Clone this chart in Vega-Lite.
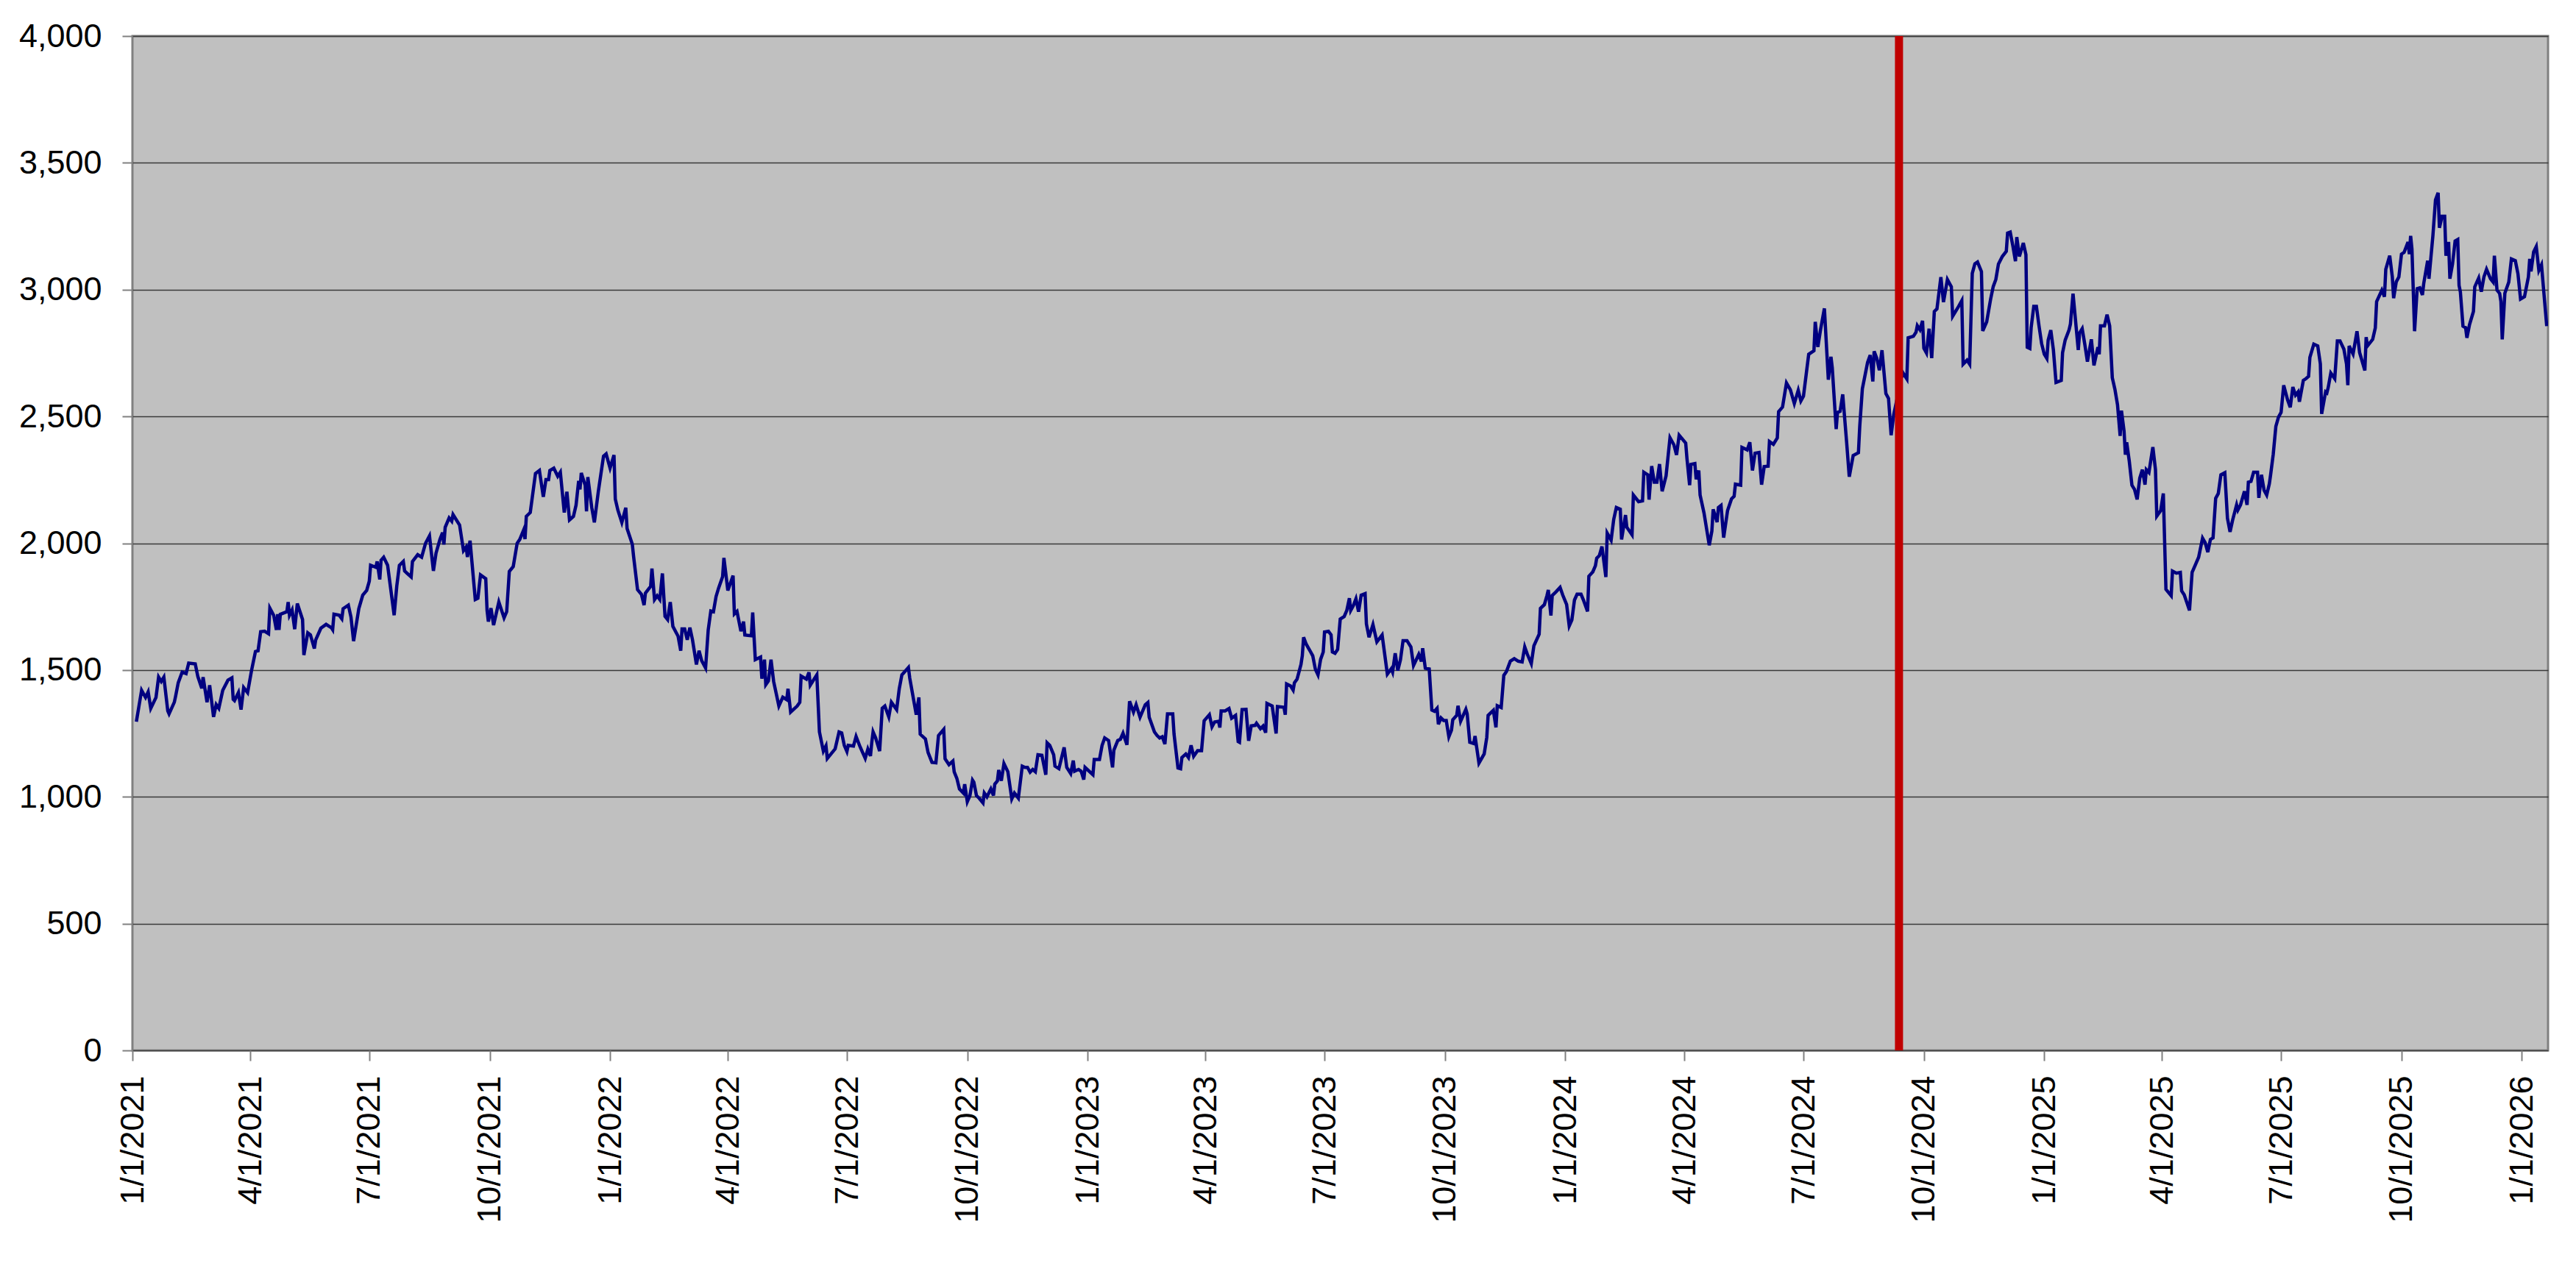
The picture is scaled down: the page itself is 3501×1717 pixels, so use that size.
{
  "$schema": "https://vega.github.io/schema/vega-lite/v6.json",
  "width": 3283,
  "height": 1379,
  "autosize": {"type": "none"},
  "padding": {"left": 180, "top": 49, "right": 38, "bottom": 289},
  "background": "white",
  "config": {
    "font": "Liberation Sans",
    "view": {"fill": "#C0C0C0", "stroke": "#808080", "strokeWidth": 3},
    "axis": {
      "domain": false,
      "labelFont": "Liberation Sans",
      "labelFontSize": 45,
      "labelColor": "#000000",
      "labelFlush": false,
      "labelOverlap": false,
      "labelLimit": 0,
      "tickColor": "#808080",
      "tickWidth": 2,
      "tickSize": 14,
      "title": null
    }
  },
  "datasets": {
    "series": [
      {"d": "2021-01-04", "v": 1296}, {"d": "2021-01-08", "v": 1420}, {"d": "2021-01-11", "v": 1392}, {"d": "2021-01-13", "v": 1414},
      {"d": "2021-01-15", "v": 1349}, {"d": "2021-01-19", "v": 1392}, {"d": "2021-01-21", "v": 1472}, {"d": "2021-01-23", "v": 1455},
      {"d": "2021-01-25", "v": 1472}, {"d": "2021-01-28", "v": 1339}, {"d": "2021-01-29", "v": 1327}, {"d": "2021-02-02", "v": 1373},
      {"d": "2021-02-03", "v": 1397}, {"d": "2021-02-05", "v": 1450}, {"d": "2021-02-08", "v": 1492}, {"d": "2021-02-11", "v": 1486},
      {"d": "2021-02-13", "v": 1527}, {"d": "2021-02-18", "v": 1524}, {"d": "2021-02-20", "v": 1474}, {"d": "2021-02-23", "v": 1428},
      {"d": "2021-02-24", "v": 1472}, {"d": "2021-02-27", "v": 1373}, {"d": "2021-03-01", "v": 1440}, {"d": "2021-03-04", "v": 1315},
      {"d": "2021-03-06", "v": 1364}, {"d": "2021-03-08", "v": 1349}, {"d": "2021-03-11", "v": 1420}, {"d": "2021-03-15", "v": 1460},
      {"d": "2021-03-18", "v": 1469}, {"d": "2021-03-19", "v": 1384}, {"d": "2021-03-20", "v": 1379}, {"d": "2021-03-23", "v": 1411},
      {"d": "2021-03-25", "v": 1344}, {"d": "2021-03-27", "v": 1431}, {"d": "2021-03-30", "v": 1411}, {"d": "2021-04-02", "v": 1498},
      {"d": "2021-04-05", "v": 1573}, {"d": "2021-04-07", "v": 1576}, {"d": "2021-04-09", "v": 1651}, {"d": "2021-04-12", "v": 1653},
      {"d": "2021-04-15", "v": 1643}, {"d": "2021-04-16", "v": 1744}, {"d": "2021-04-19", "v": 1715}, {"d": "2021-04-21", "v": 1658},
      {"d": "2021-04-22", "v": 1720}, {"d": "2021-04-23", "v": 1658}, {"d": "2021-04-24", "v": 1720}, {"d": "2021-04-29", "v": 1730},
      {"d": "2021-04-30", "v": 1768}, {"d": "2021-05-01", "v": 1716}, {"d": "2021-05-03", "v": 1737}, {"d": "2021-05-05", "v": 1661},
      {"d": "2021-05-07", "v": 1762}, {"d": "2021-05-11", "v": 1699}, {"d": "2021-05-12", "v": 1559}, {"d": "2021-05-15", "v": 1647},
      {"d": "2021-05-17", "v": 1639}, {"d": "2021-05-20", "v": 1585}, {"d": "2021-05-21", "v": 1618}, {"d": "2021-05-25", "v": 1665},
      {"d": "2021-05-29", "v": 1680}, {"d": "2021-06-02", "v": 1667}, {"d": "2021-06-03", "v": 1659}, {"d": "2021-06-04", "v": 1720},
      {"d": "2021-06-08", "v": 1716}, {"d": "2021-06-10", "v": 1702}, {"d": "2021-06-11", "v": 1742}, {"d": "2021-06-15", "v": 1756},
      {"d": "2021-06-17", "v": 1709}, {"d": "2021-06-19", "v": 1614}, {"d": "2021-06-23", "v": 1742}, {"d": "2021-06-26", "v": 1795},
      {"d": "2021-06-29", "v": 1814}, {"d": "2021-07-01", "v": 1850}, {"d": "2021-07-02", "v": 1913}, {"d": "2021-07-06", "v": 1905},
      {"d": "2021-07-07", "v": 1928}, {"d": "2021-07-09", "v": 1857}, {"d": "2021-07-10", "v": 1933}, {"d": "2021-07-12", "v": 1945},
      {"d": "2021-07-15", "v": 1913}, {"d": "2021-07-20", "v": 1716}, {"d": "2021-07-22", "v": 1831}, {"d": "2021-07-24", "v": 1913},
      {"d": "2021-07-27", "v": 1928}, {"d": "2021-07-28", "v": 1891}, {"d": "2021-07-30", "v": 1881}, {"d": "2021-08-02", "v": 1867},
      {"d": "2021-08-03", "v": 1928}, {"d": "2021-08-07", "v": 1955}, {"d": "2021-08-10", "v": 1945}, {"d": "2021-08-13", "v": 2000},
      {"d": "2021-08-16", "v": 2029}, {"d": "2021-08-19", "v": 1891}, {"d": "2021-08-21", "v": 1961}, {"d": "2021-08-24", "v": 2015},
      {"d": "2021-08-26", "v": 2042}, {"d": "2021-08-27", "v": 1995}, {"d": "2021-08-28", "v": 2063}, {"d": "2021-08-31", "v": 2100},
      {"d": "2021-09-02", "v": 2087}, {"d": "2021-09-03", "v": 2113}, {"d": "2021-09-08", "v": 2072}, {"d": "2021-09-11", "v": 1971},
      {"d": "2021-09-13", "v": 1985}, {"d": "2021-09-14", "v": 1946}, {"d": "2021-09-16", "v": 2010}, {"d": "2021-09-20", "v": 1778},
      {"d": "2021-09-22", "v": 1783}, {"d": "2021-09-24", "v": 1875}, {"d": "2021-09-28", "v": 1860}, {"d": "2021-09-29", "v": 1735},
      {"d": "2021-09-30", "v": 1691}, {"d": "2021-10-02", "v": 1744}, {"d": "2021-10-04", "v": 1677}, {"d": "2021-10-08", "v": 1768},
      {"d": "2021-10-12", "v": 1706}, {"d": "2021-10-14", "v": 1730}, {"d": "2021-10-16", "v": 1889}, {"d": "2021-10-19", "v": 1908},
      {"d": "2021-10-22", "v": 2000}, {"d": "2021-10-24", "v": 2015}, {"d": "2021-10-27", "v": 2053}, {"d": "2021-10-28", "v": 2016},
      {"d": "2021-10-29", "v": 2106}, {"d": "2021-11-01", "v": 2121}, {"d": "2021-11-05", "v": 2275}, {"d": "2021-11-08", "v": 2287},
      {"d": "2021-11-11", "v": 2183}, {"d": "2021-11-13", "v": 2251}, {"d": "2021-11-15", "v": 2251}, {"d": "2021-11-16", "v": 2287},
      {"d": "2021-11-19", "v": 2296}, {"d": "2021-11-22", "v": 2264}, {"d": "2021-11-24", "v": 2280}, {"d": "2021-11-27", "v": 2121},
      {"d": "2021-11-29", "v": 2203}, {"d": "2021-12-01", "v": 2092}, {"d": "2021-12-04", "v": 2106}, {"d": "2021-12-06", "v": 2150},
      {"d": "2021-12-08", "v": 2246}, {"d": "2021-12-09", "v": 2212}, {"d": "2021-12-10", "v": 2277}, {"d": "2021-12-13", "v": 2228},
      {"d": "2021-12-14", "v": 2126}, {"d": "2021-12-15", "v": 2261}, {"d": "2021-12-18", "v": 2141}, {"d": "2021-12-20", "v": 2082},
      {"d": "2021-12-23", "v": 2203}, {"d": "2021-12-27", "v": 2343}, {"d": "2021-12-29", "v": 2352}, {"d": "2022-01-01", "v": 2296},
      {"d": "2022-01-04", "v": 2348}, {"d": "2022-01-05", "v": 2174}, {"d": "2022-01-07", "v": 2130}, {"d": "2022-01-10", "v": 2082},
      {"d": "2022-01-13", "v": 2140}, {"d": "2022-01-14", "v": 2058}, {"d": "2022-01-18", "v": 1996}, {"d": "2022-01-19", "v": 1947},
      {"d": "2022-01-22", "v": 1817}, {"d": "2022-01-25", "v": 1798}, {"d": "2022-01-27", "v": 1756}, {"d": "2022-01-28", "v": 1803},
      {"d": "2022-02-01", "v": 1830}, {"d": "2022-02-02", "v": 1900}, {"d": "2022-02-04", "v": 1778}, {"d": "2022-02-06", "v": 1793},
      {"d": "2022-02-08", "v": 1778}, {"d": "2022-02-10", "v": 1881}, {"d": "2022-02-12", "v": 1712}, {"d": "2022-02-14", "v": 1699},
      {"d": "2022-02-16", "v": 1768}, {"d": "2022-02-18", "v": 1672}, {"d": "2022-02-22", "v": 1633}, {"d": "2022-02-24", "v": 1576},
      {"d": "2022-02-25", "v": 1662}, {"d": "2022-02-27", "v": 1662}, {"d": "2022-03-01", "v": 1619}, {"d": "2022-03-03", "v": 1667},
      {"d": "2022-03-05", "v": 1619}, {"d": "2022-03-08", "v": 1522}, {"d": "2022-03-10", "v": 1576}, {"d": "2022-03-12", "v": 1537},
      {"d": "2022-03-15", "v": 1508}, {"d": "2022-03-17", "v": 1658}, {"d": "2022-03-19", "v": 1733}, {"d": "2022-03-21", "v": 1730},
      {"d": "2022-03-23", "v": 1790}, {"d": "2022-03-25", "v": 1824}, {"d": "2022-03-28", "v": 1868}, {"d": "2022-03-29", "v": 1942},
      {"d": "2022-04-01", "v": 1814}, {"d": "2022-04-05", "v": 1872}, {"d": "2022-04-06", "v": 1721}, {"d": "2022-04-08", "v": 1731},
      {"d": "2022-04-11", "v": 1653}, {"d": "2022-04-13", "v": 1691}, {"d": "2022-04-14", "v": 1638}, {"d": "2022-04-19", "v": 1635},
      {"d": "2022-04-20", "v": 1727}, {"d": "2022-04-22", "v": 1541}, {"d": "2022-04-26", "v": 1551}, {"d": "2022-04-27", "v": 1466},
      {"d": "2022-04-29", "v": 1541}, {"d": "2022-04-30", "v": 1442}, {"d": "2022-05-02", "v": 1457}, {"d": "2022-05-04", "v": 1541},
      {"d": "2022-05-06", "v": 1455}, {"d": "2022-05-10", "v": 1358}, {"d": "2022-05-13", "v": 1393}, {"d": "2022-05-16", "v": 1383},
      {"d": "2022-05-17", "v": 1426}, {"d": "2022-05-19", "v": 1334}, {"d": "2022-05-24", "v": 1358}, {"d": "2022-05-26", "v": 1373},
      {"d": "2022-05-27", "v": 1476}, {"d": "2022-05-31", "v": 1464}, {"d": "2022-06-02", "v": 1491}, {"d": "2022-06-03", "v": 1440},
      {"d": "2022-06-08", "v": 1481}, {"d": "2022-06-10", "v": 1256}, {"d": "2022-06-13", "v": 1180}, {"d": "2022-06-15", "v": 1201},
      {"d": "2022-06-16", "v": 1151}, {"d": "2022-06-22", "v": 1189}, {"d": "2022-06-25", "v": 1256}, {"d": "2022-06-27", "v": 1252},
      {"d": "2022-06-29", "v": 1203}, {"d": "2022-07-01", "v": 1179}, {"d": "2022-07-02", "v": 1203}, {"d": "2022-07-06", "v": 1200},
      {"d": "2022-07-08", "v": 1238}, {"d": "2022-07-11", "v": 1198}, {"d": "2022-07-15", "v": 1152}, {"d": "2022-07-17", "v": 1188},
      {"d": "2022-07-19", "v": 1161}, {"d": "2022-07-20", "v": 1215}, {"d": "2022-07-21", "v": 1256}, {"d": "2022-07-23", "v": 1232},
      {"d": "2022-07-26", "v": 1180}, {"d": "2022-07-28", "v": 1349}, {"d": "2022-07-30", "v": 1358}, {"d": "2022-08-02", "v": 1315},
      {"d": "2022-08-04", "v": 1373}, {"d": "2022-08-08", "v": 1344}, {"d": "2022-08-10", "v": 1426}, {"d": "2022-08-12", "v": 1481},
      {"d": "2022-08-17", "v": 1510}, {"d": "2022-08-18", "v": 1469}, {"d": "2022-08-20", "v": 1411}, {"d": "2022-08-23", "v": 1324},
      {"d": "2022-08-25", "v": 1392}, {"d": "2022-08-26", "v": 1247}, {"d": "2022-08-30", "v": 1228}, {"d": "2022-09-01", "v": 1175},
      {"d": "2022-09-04", "v": 1136}, {"d": "2022-09-07", "v": 1134}, {"d": "2022-09-09", "v": 1242}, {"d": "2022-09-13", "v": 1266},
      {"d": "2022-09-14", "v": 1150}, {"d": "2022-09-17", "v": 1127}, {"d": "2022-09-20", "v": 1141}, {"d": "2022-09-21", "v": 1098},
      {"d": "2022-09-23", "v": 1073}, {"d": "2022-09-25", "v": 1031}, {"d": "2022-09-28", "v": 1015}, {"d": "2022-09-29", "v": 1050},
      {"d": "2022-10-01", "v": 981}, {"d": "2022-10-03", "v": 1005}, {"d": "2022-10-05", "v": 1066}, {"d": "2022-10-06", "v": 1058},
      {"d": "2022-10-08", "v": 1005}, {"d": "2022-10-10", "v": 995}, {"d": "2022-10-13", "v": 976}, {"d": "2022-10-14", "v": 1015},
      {"d": "2022-10-16", "v": 1000}, {"d": "2022-10-19", "v": 1031}, {"d": "2022-10-21", "v": 1005}, {"d": "2022-10-22", "v": 1050},
      {"d": "2022-10-24", "v": 1063}, {"d": "2022-10-25", "v": 1106}, {"d": "2022-10-27", "v": 1063}, {"d": "2022-10-29", "v": 1131},
      {"d": "2022-11-01", "v": 1099}, {"d": "2022-11-04", "v": 992}, {"d": "2022-11-06", "v": 1015}, {"d": "2022-11-09", "v": 995},
      {"d": "2022-11-12", "v": 1121}, {"d": "2022-11-14", "v": 1116}, {"d": "2022-11-16", "v": 1116}, {"d": "2022-11-18", "v": 1097},
      {"d": "2022-11-20", "v": 1108}, {"d": "2022-11-22", "v": 1099}, {"d": "2022-11-24", "v": 1166}, {"d": "2022-11-27", "v": 1164},
      {"d": "2022-11-30", "v": 1087}, {"d": "2022-12-01", "v": 1213}, {"d": "2022-12-03", "v": 1203}, {"d": "2022-12-06", "v": 1166},
      {"d": "2022-12-07", "v": 1121}, {"d": "2022-12-10", "v": 1111}, {"d": "2022-12-14", "v": 1195}, {"d": "2022-12-16", "v": 1116},
      {"d": "2022-12-19", "v": 1092}, {"d": "2022-12-21", "v": 1143}, {"d": "2022-12-22", "v": 1101}, {"d": "2022-12-25", "v": 1108},
      {"d": "2022-12-27", "v": 1101}, {"d": "2022-12-29", "v": 1068}, {"d": "2022-12-30", "v": 1116}, {"d": "2023-01-05", "v": 1087},
      {"d": "2023-01-06", "v": 1147}, {"d": "2023-01-10", "v": 1147}, {"d": "2023-01-12", "v": 1203}, {"d": "2023-01-14", "v": 1232},
      {"d": "2023-01-17", "v": 1222}, {"d": "2023-01-20", "v": 1116}, {"d": "2023-01-21", "v": 1184}, {"d": "2023-01-24", "v": 1222},
      {"d": "2023-01-26", "v": 1227}, {"d": "2023-01-28", "v": 1251}, {"d": "2023-01-31", "v": 1205}, {"d": "2023-02-02", "v": 1377},
      {"d": "2023-02-05", "v": 1334}, {"d": "2023-02-07", "v": 1363}, {"d": "2023-02-10", "v": 1314}, {"d": "2023-02-14", "v": 1363},
      {"d": "2023-02-16", "v": 1372}, {"d": "2023-02-17", "v": 1314}, {"d": "2023-02-21", "v": 1256}, {"d": "2023-02-23", "v": 1242},
      {"d": "2023-02-25", "v": 1232}, {"d": "2023-02-27", "v": 1237}, {"d": "2023-03-01", "v": 1208}, {"d": "2023-03-03", "v": 1327},
      {"d": "2023-03-07", "v": 1327}, {"d": "2023-03-08", "v": 1247}, {"d": "2023-03-11", "v": 1114}, {"d": "2023-03-13", "v": 1111},
      {"d": "2023-03-14", "v": 1155}, {"d": "2023-03-17", "v": 1169}, {"d": "2023-03-19", "v": 1155}, {"d": "2023-03-21", "v": 1203},
      {"d": "2023-03-23", "v": 1160}, {"d": "2023-03-26", "v": 1182}, {"d": "2023-03-29", "v": 1182}, {"d": "2023-03-31", "v": 1300},
      {"d": "2023-04-04", "v": 1324}, {"d": "2023-04-06", "v": 1276}, {"d": "2023-04-08", "v": 1295}, {"d": "2023-04-11", "v": 1298},
      {"d": "2023-04-12", "v": 1273}, {"d": "2023-04-13", "v": 1339}, {"d": "2023-04-16", "v": 1339}, {"d": "2023-04-19", "v": 1348},
      {"d": "2023-04-21", "v": 1310}, {"d": "2023-04-24", "v": 1321}, {"d": "2023-04-26", "v": 1218}, {"d": "2023-04-27", "v": 1215},
      {"d": "2023-04-29", "v": 1344}, {"d": "2023-05-02", "v": 1345}, {"d": "2023-05-04", "v": 1221}, {"d": "2023-05-06", "v": 1280},
      {"d": "2023-05-09", "v": 1282}, {"d": "2023-05-10", "v": 1290}, {"d": "2023-05-13", "v": 1269}, {"d": "2023-05-15", "v": 1279},
      {"d": "2023-05-17", "v": 1253}, {"d": "2023-05-18", "v": 1368}, {"d": "2023-05-22", "v": 1358}, {"d": "2023-05-25", "v": 1250},
      {"d": "2023-05-26", "v": 1356}, {"d": "2023-05-31", "v": 1353}, {"d": "2023-06-01", "v": 1324}, {"d": "2023-06-02", "v": 1445},
      {"d": "2023-06-05", "v": 1437}, {"d": "2023-06-07", "v": 1421}, {"d": "2023-06-08", "v": 1450}, {"d": "2023-06-10", "v": 1464},
      {"d": "2023-06-13", "v": 1522}, {"d": "2023-06-14", "v": 1556}, {"d": "2023-06-15", "v": 1629}, {"d": "2023-06-17", "v": 1602},
      {"d": "2023-06-20", "v": 1575}, {"d": "2023-06-22", "v": 1556}, {"d": "2023-06-24", "v": 1503}, {"d": "2023-06-26", "v": 1481},
      {"d": "2023-06-28", "v": 1542}, {"d": "2023-06-30", "v": 1571}, {"d": "2023-07-01", "v": 1650}, {"d": "2023-07-04", "v": 1653},
      {"d": "2023-07-06", "v": 1639}, {"d": "2023-07-07", "v": 1571}, {"d": "2023-07-09", "v": 1566}, {"d": "2023-07-11", "v": 1581},
      {"d": "2023-07-13", "v": 1701}, {"d": "2023-07-16", "v": 1711}, {"d": "2023-07-18", "v": 1735}, {"d": "2023-07-20", "v": 1783},
      {"d": "2023-07-21", "v": 1735}, {"d": "2023-07-23", "v": 1754}, {"d": "2023-07-25", "v": 1781}, {"d": "2023-07-27", "v": 1730},
      {"d": "2023-07-29", "v": 1795}, {"d": "2023-08-01", "v": 1801}, {"d": "2023-08-02", "v": 1682}, {"d": "2023-08-04", "v": 1629},
      {"d": "2023-08-07", "v": 1679}, {"d": "2023-08-10", "v": 1611}, {"d": "2023-08-14", "v": 1638}, {"d": "2023-08-18", "v": 1484},
      {"d": "2023-08-21", "v": 1505}, {"d": "2023-08-22", "v": 1492}, {"d": "2023-08-24", "v": 1566}, {"d": "2023-08-26", "v": 1498},
      {"d": "2023-08-28", "v": 1540}, {"d": "2023-08-30", "v": 1616}, {"d": "2023-09-02", "v": 1616}, {"d": "2023-09-05", "v": 1591},
      {"d": "2023-09-07", "v": 1518}, {"d": "2023-09-11", "v": 1562}, {"d": "2023-09-13", "v": 1534}, {"d": "2023-09-14", "v": 1586},
      {"d": "2023-09-16", "v": 1507}, {"d": "2023-09-19", "v": 1504}, {"d": "2023-09-21", "v": 1342}, {"d": "2023-09-23", "v": 1337},
      {"d": "2023-09-25", "v": 1349}, {"d": "2023-09-26", "v": 1286}, {"d": "2023-09-28", "v": 1311}, {"d": "2023-09-30", "v": 1301},
      {"d": "2023-10-02", "v": 1301}, {"d": "2023-10-04", "v": 1237}, {"d": "2023-10-06", "v": 1263}, {"d": "2023-10-07", "v": 1304},
      {"d": "2023-10-10", "v": 1321}, {"d": "2023-10-11", "v": 1359}, {"d": "2023-10-13", "v": 1298}, {"d": "2023-10-17", "v": 1345},
      {"d": "2023-10-18", "v": 1327}, {"d": "2023-10-20", "v": 1215}, {"d": "2023-10-23", "v": 1210}, {"d": "2023-10-24", "v": 1240},
      {"d": "2023-10-26", "v": 1169}, {"d": "2023-10-27", "v": 1133}, {"d": "2023-10-31", "v": 1169}, {"d": "2023-11-02", "v": 1235},
      {"d": "2023-11-03", "v": 1321}, {"d": "2023-11-07", "v": 1341}, {"d": "2023-11-09", "v": 1274}, {"d": "2023-11-10", "v": 1359},
      {"d": "2023-11-13", "v": 1352}, {"d": "2023-11-15", "v": 1479}, {"d": "2023-11-17", "v": 1494}, {"d": "2023-11-20", "v": 1535},
      {"d": "2023-11-23", "v": 1545}, {"d": "2023-11-26", "v": 1535}, {"d": "2023-11-29", "v": 1532}, {"d": "2023-12-01", "v": 1591},
      {"d": "2023-12-03", "v": 1562}, {"d": "2023-12-06", "v": 1525}, {"d": "2023-12-08", "v": 1596}, {"d": "2023-12-12", "v": 1641},
      {"d": "2023-12-13", "v": 1743}, {"d": "2023-12-16", "v": 1758}, {"d": "2023-12-18", "v": 1794}, {"d": "2023-12-19", "v": 1816},
      {"d": "2023-12-21", "v": 1715}, {"d": "2023-12-22", "v": 1794}, {"d": "2023-12-25", "v": 1809}, {"d": "2023-12-28", "v": 1826},
      {"d": "2023-12-30", "v": 1796}, {"d": "2024-01-02", "v": 1758}, {"d": "2024-01-04", "v": 1674}, {"d": "2024-01-06", "v": 1697},
      {"d": "2024-01-08", "v": 1776}, {"d": "2024-01-10", "v": 1799}, {"d": "2024-01-13", "v": 1799}, {"d": "2024-01-15", "v": 1774},
      {"d": "2024-01-18", "v": 1731}, {"d": "2024-01-19", "v": 1870}, {"d": "2024-01-22", "v": 1887}, {"d": "2024-01-24", "v": 1911},
      {"d": "2024-01-25", "v": 1941}, {"d": "2024-01-27", "v": 1951}, {"d": "2024-01-29", "v": 1987}, {"d": "2024-02-01", "v": 1867},
      {"d": "2024-02-02", "v": 2040}, {"d": "2024-02-05", "v": 2012}, {"d": "2024-02-07", "v": 2094}, {"d": "2024-02-09", "v": 2141},
      {"d": "2024-02-12", "v": 2134}, {"d": "2024-02-13", "v": 2015}, {"d": "2024-02-16", "v": 2111}, {"d": "2024-02-17", "v": 2063},
      {"d": "2024-02-21", "v": 2033}, {"d": "2024-02-22", "v": 2190}, {"d": "2024-02-26", "v": 2164}, {"d": "2024-02-29", "v": 2167},
      {"d": "2024-03-01", "v": 2280}, {"d": "2024-03-04", "v": 2270}, {"d": "2024-03-05", "v": 2172}, {"d": "2024-03-07", "v": 2304},
      {"d": "2024-03-09", "v": 2241}, {"d": "2024-03-11", "v": 2241}, {"d": "2024-03-13", "v": 2312}, {"d": "2024-03-15", "v": 2205},
      {"d": "2024-03-18", "v": 2266}, {"d": "2024-03-21", "v": 2416}, {"d": "2024-03-24", "v": 2388}, {"d": "2024-03-26", "v": 2348},
      {"d": "2024-03-28", "v": 2426}, {"d": "2024-04-02", "v": 2395}, {"d": "2024-04-03", "v": 2332}, {"d": "2024-04-05", "v": 2229},
      {"d": "2024-04-06", "v": 2311}, {"d": "2024-04-09", "v": 2314}, {"d": "2024-04-10", "v": 2252}, {"d": "2024-04-12", "v": 2287},
      {"d": "2024-04-13", "v": 2190}, {"d": "2024-04-16", "v": 2119}, {"d": "2024-04-20", "v": 1992}, {"d": "2024-04-22", "v": 2048},
      {"d": "2024-04-23", "v": 2134}, {"d": "2024-04-26", "v": 2083}, {"d": "2024-04-27", "v": 2141}, {"d": "2024-04-29", "v": 2149},
      {"d": "2024-05-01", "v": 2022}, {"d": "2024-05-04", "v": 2129}, {"d": "2024-05-07", "v": 2175}, {"d": "2024-05-09", "v": 2185},
      {"d": "2024-05-10", "v": 2233}, {"d": "2024-05-14", "v": 2229}, {"d": "2024-05-15", "v": 2378}, {"d": "2024-05-19", "v": 2368},
      {"d": "2024-05-21", "v": 2398}, {"d": "2024-05-23", "v": 2287}, {"d": "2024-05-25", "v": 2355}, {"d": "2024-05-28", "v": 2358},
      {"d": "2024-05-30", "v": 2231}, {"d": "2024-06-01", "v": 2302}, {"d": "2024-06-04", "v": 2304}, {"d": "2024-06-05", "v": 2401},
      {"d": "2024-06-08", "v": 2390}, {"d": "2024-06-11", "v": 2415}, {"d": "2024-06-12", "v": 2519}, {"d": "2024-06-15", "v": 2537},
      {"d": "2024-06-18", "v": 2632}, {"d": "2024-06-21", "v": 2605}, {"d": "2024-06-24", "v": 2551}, {"d": "2024-06-27", "v": 2603},
      {"d": "2024-06-29", "v": 2561}, {"d": "2024-07-01", "v": 2580}, {"d": "2024-07-05", "v": 2745}, {"d": "2024-07-09", "v": 2759},
      {"d": "2024-07-10", "v": 2873}, {"d": "2024-07-12", "v": 2774}, {"d": "2024-07-14", "v": 2841}, {"d": "2024-07-17", "v": 2926},
      {"d": "2024-07-20", "v": 2645}, {"d": "2024-07-22", "v": 2735}, {"d": "2024-07-23", "v": 2692}, {"d": "2024-07-26", "v": 2450},
      {"d": "2024-07-27", "v": 2516}, {"d": "2024-07-29", "v": 2520}, {"d": "2024-07-31", "v": 2587}, {"d": "2024-08-03", "v": 2397},
      {"d": "2024-08-05", "v": 2262}, {"d": "2024-08-08", "v": 2346}, {"d": "2024-08-12", "v": 2357}, {"d": "2024-08-13", "v": 2460},
      {"d": "2024-08-15", "v": 2609}, {"d": "2024-08-19", "v": 2713}, {"d": "2024-08-21", "v": 2742}, {"d": "2024-08-23", "v": 2638},
      {"d": "2024-08-24", "v": 2757}, {"d": "2024-08-26", "v": 2730}, {"d": "2024-08-28", "v": 2682}, {"d": "2024-08-30", "v": 2761},
      {"d": "2024-09-02", "v": 2590}, {"d": "2024-09-04", "v": 2571}, {"d": "2024-09-06", "v": 2426}, {"d": "2024-09-08", "v": 2508},
      {"d": "2024-09-11", "v": 2580}, {"d": "2024-09-13", "v": 2640}, {"d": "2024-09-15", "v": 2672}, {"d": "2024-09-18", "v": 2648},
      {"d": "2024-09-19", "v": 2810}, {"d": "2024-09-23", "v": 2816}, {"d": "2024-09-25", "v": 2832}, {"d": "2024-09-26", "v": 2858},
      {"d": "2024-09-28", "v": 2842}, {"d": "2024-09-30", "v": 2877}, {"d": "2024-10-01", "v": 2769}, {"d": "2024-10-03", "v": 2750},
      {"d": "2024-10-05", "v": 2846}, {"d": "2024-10-07", "v": 2730}, {"d": "2024-10-09", "v": 2914}, {"d": "2024-10-11", "v": 2924},
      {"d": "2024-10-14", "v": 3049}, {"d": "2024-10-16", "v": 2951}, {"d": "2024-10-19", "v": 3040}, {"d": "2024-10-22", "v": 3011},
      {"d": "2024-10-23", "v": 2895}, {"d": "2024-10-27", "v": 2929}, {"d": "2024-10-30", "v": 2957}, {"d": "2024-10-31", "v": 2706},
      {"d": "2024-11-03", "v": 2722}, {"d": "2024-11-05", "v": 2706}, {"d": "2024-11-07", "v": 3064}, {"d": "2024-11-09", "v": 3102},
      {"d": "2024-11-11", "v": 3109}, {"d": "2024-11-14", "v": 3071}, {"d": "2024-11-15", "v": 2837}, {"d": "2024-11-18", "v": 2873},
      {"d": "2024-11-21", "v": 2962}, {"d": "2024-11-23", "v": 3012}, {"d": "2024-11-25", "v": 3040}, {"d": "2024-11-27", "v": 3101},
      {"d": "2024-11-30", "v": 3131}, {"d": "2024-12-03", "v": 3151}, {"d": "2024-12-04", "v": 3223}, {"d": "2024-12-06", "v": 3227},
      {"d": "2024-12-08", "v": 3173}, {"d": "2024-12-10", "v": 3112}, {"d": "2024-12-11", "v": 3207}, {"d": "2024-12-13", "v": 3131},
      {"d": "2024-12-16", "v": 3184}, {"d": "2024-12-18", "v": 3138}, {"d": "2024-12-19", "v": 2773}, {"d": "2024-12-21", "v": 2768},
      {"d": "2024-12-22", "v": 2851}, {"d": "2024-12-24", "v": 2934}, {"d": "2024-12-26", "v": 2934}, {"d": "2024-12-28", "v": 2857},
      {"d": "2024-12-30", "v": 2787}, {"d": "2025-01-01", "v": 2746}, {"d": "2025-01-03", "v": 2729}, {"d": "2025-01-04", "v": 2801},
      {"d": "2025-01-06", "v": 2840}, {"d": "2025-01-08", "v": 2762}, {"d": "2025-01-10", "v": 2634}, {"d": "2025-01-14", "v": 2642},
      {"d": "2025-01-15", "v": 2751}, {"d": "2025-01-17", "v": 2801}, {"d": "2025-01-20", "v": 2842}, {"d": "2025-01-21", "v": 2864},
      {"d": "2025-01-23", "v": 2984}, {"d": "2025-01-27", "v": 2762}, {"d": "2025-01-28", "v": 2829}, {"d": "2025-01-30", "v": 2846},
      {"d": "2025-02-01", "v": 2784}, {"d": "2025-02-03", "v": 2716}, {"d": "2025-02-06", "v": 2804}, {"d": "2025-02-08", "v": 2701},
      {"d": "2025-02-11", "v": 2773}, {"d": "2025-02-12", "v": 2745}, {"d": "2025-02-13", "v": 2857}, {"d": "2025-02-16", "v": 2857},
      {"d": "2025-02-18", "v": 2901}, {"d": "2025-02-20", "v": 2857}, {"d": "2025-02-22", "v": 2653}, {"d": "2025-02-24", "v": 2607},
      {"d": "2025-02-26", "v": 2546}, {"d": "2025-02-28", "v": 2423}, {"d": "2025-03-01", "v": 2523}, {"d": "2025-03-03", "v": 2442},
      {"d": "2025-03-04", "v": 2349}, {"d": "2025-03-05", "v": 2398}, {"d": "2025-03-07", "v": 2323}, {"d": "2025-03-09", "v": 2229},
      {"d": "2025-03-11", "v": 2212}, {"d": "2025-03-13", "v": 2173}, {"d": "2025-03-15", "v": 2257}, {"d": "2025-03-17", "v": 2290},
      {"d": "2025-03-19", "v": 2231}, {"d": "2025-03-20", "v": 2290}, {"d": "2025-03-22", "v": 2279}, {"d": "2025-03-25", "v": 2379},
      {"d": "2025-03-27", "v": 2290}, {"d": "2025-03-28", "v": 2107}, {"d": "2025-03-31", "v": 2129}, {"d": "2025-04-02", "v": 2196},
      {"d": "2025-04-04", "v": 1818}, {"d": "2025-04-08", "v": 1793}, {"d": "2025-04-09", "v": 1890}, {"d": "2025-04-12", "v": 1882},
      {"d": "2025-04-15", "v": 1885}, {"d": "2025-04-16", "v": 1812}, {"d": "2025-04-18", "v": 1796}, {"d": "2025-04-22", "v": 1735},
      {"d": "2025-04-24", "v": 1885}, {"d": "2025-04-26", "v": 1909}, {"d": "2025-04-29", "v": 1945}, {"d": "2025-05-02", "v": 2020},
      {"d": "2025-05-04", "v": 2002}, {"d": "2025-05-06", "v": 1965}, {"d": "2025-05-08", "v": 2015}, {"d": "2025-05-10", "v": 2021},
      {"d": "2025-05-12", "v": 2177}, {"d": "2025-05-14", "v": 2196}, {"d": "2025-05-16", "v": 2270}, {"d": "2025-05-19", "v": 2278},
      {"d": "2025-05-21", "v": 2099}, {"d": "2025-05-23", "v": 2045}, {"d": "2025-05-25", "v": 2092}, {"d": "2025-05-28", "v": 2151},
      {"d": "2025-05-29", "v": 2131}, {"d": "2025-05-31", "v": 2151}, {"d": "2025-06-03", "v": 2205}, {"d": "2025-06-05", "v": 2151},
      {"d": "2025-06-06", "v": 2241}, {"d": "2025-06-08", "v": 2244}, {"d": "2025-06-10", "v": 2280}, {"d": "2025-06-13", "v": 2280},
      {"d": "2025-06-14", "v": 2179}, {"d": "2025-06-16", "v": 2270}, {"d": "2025-06-18", "v": 2209}, {"d": "2025-06-20", "v": 2190},
      {"d": "2025-06-22", "v": 2234}, {"d": "2025-06-23", "v": 2270}, {"d": "2025-06-25", "v": 2351}, {"d": "2025-06-27", "v": 2461},
      {"d": "2025-06-29", "v": 2497}, {"d": "2025-07-01", "v": 2516}, {"d": "2025-07-03", "v": 2623}, {"d": "2025-07-06", "v": 2565},
      {"d": "2025-07-08", "v": 2536}, {"d": "2025-07-10", "v": 2616}, {"d": "2025-07-12", "v": 2584}, {"d": "2025-07-14", "v": 2597},
      {"d": "2025-07-15", "v": 2558}, {"d": "2025-07-18", "v": 2642}, {"d": "2025-07-20", "v": 2649}, {"d": "2025-07-22", "v": 2658},
      {"d": "2025-07-23", "v": 2733}, {"d": "2025-07-26", "v": 2785}, {"d": "2025-07-29", "v": 2778}, {"d": "2025-07-31", "v": 2707},
      {"d": "2025-08-01", "v": 2510}, {"d": "2025-08-04", "v": 2597}, {"d": "2025-08-05", "v": 2593}, {"d": "2025-08-06", "v": 2614},
      {"d": "2025-08-08", "v": 2671}, {"d": "2025-08-11", "v": 2649}, {"d": "2025-08-13", "v": 2798}, {"d": "2025-08-15", "v": 2798},
      {"d": "2025-08-18", "v": 2765}, {"d": "2025-08-20", "v": 2707}, {"d": "2025-08-21", "v": 2623}, {"d": "2025-08-22", "v": 2778},
      {"d": "2025-08-25", "v": 2746}, {"d": "2025-08-28", "v": 2836}, {"d": "2025-08-30", "v": 2752}, {"d": "2025-09-03", "v": 2681},
      {"d": "2025-09-04", "v": 2813}, {"d": "2025-09-05", "v": 2778}, {"d": "2025-09-09", "v": 2804}, {"d": "2025-09-11", "v": 2849},
      {"d": "2025-09-12", "v": 2953}, {"d": "2025-09-16", "v": 2998}, {"d": "2025-09-18", "v": 2972}, {"d": "2025-09-19", "v": 3080},
      {"d": "2025-09-22", "v": 3134}, {"d": "2025-09-24", "v": 3050}, {"d": "2025-09-25", "v": 2966}, {"d": "2025-09-27", "v": 3031},
      {"d": "2025-09-29", "v": 3050}, {"d": "2025-10-01", "v": 3140}, {"d": "2025-10-03", "v": 3147}, {"d": "2025-10-06", "v": 3188},
      {"d": "2025-10-07", "v": 3140}, {"d": "2025-10-08", "v": 3212}, {"d": "2025-10-09", "v": 3160}, {"d": "2025-10-11", "v": 2836},
      {"d": "2025-10-13", "v": 3004}, {"d": "2025-10-15", "v": 3007}, {"d": "2025-10-17", "v": 2979}, {"d": "2025-10-18", "v": 3024},
      {"d": "2025-10-21", "v": 3114}, {"d": "2025-10-22", "v": 3043}, {"d": "2025-10-25", "v": 3212}, {"d": "2025-10-27", "v": 3354},
      {"d": "2025-10-29", "v": 3382}, {"d": "2025-10-30", "v": 3244}, {"d": "2025-11-01", "v": 3289}, {"d": "2025-11-03", "v": 3289},
      {"d": "2025-11-04", "v": 3134}, {"d": "2025-11-06", "v": 3188}, {"d": "2025-11-07", "v": 3043}, {"d": "2025-11-09", "v": 3101},
      {"d": "2025-11-11", "v": 3192}, {"d": "2025-11-13", "v": 3198}, {"d": "2025-11-14", "v": 3017}, {"d": "2025-11-15", "v": 2991},
      {"d": "2025-11-17", "v": 2856}, {"d": "2025-11-19", "v": 2850}, {"d": "2025-11-20", "v": 2810}, {"d": "2025-11-22", "v": 2862},
      {"d": "2025-11-25", "v": 2914}, {"d": "2025-11-26", "v": 3011}, {"d": "2025-11-29", "v": 3046}, {"d": "2025-12-01", "v": 2992},
      {"d": "2025-12-03", "v": 3050}, {"d": "2025-12-05", "v": 3080}, {"d": "2025-12-08", "v": 3043}, {"d": "2025-12-10", "v": 3030},
      {"d": "2025-12-11", "v": 3134}, {"d": "2025-12-13", "v": 2998}, {"d": "2025-12-15", "v": 2985}, {"d": "2025-12-16", "v": 2953},
      {"d": "2025-12-17", "v": 2804}, {"d": "2025-12-19", "v": 2986}, {"d": "2025-12-22", "v": 3030}, {"d": "2025-12-24", "v": 3121},
      {"d": "2025-12-27", "v": 3114}, {"d": "2025-12-29", "v": 3063}, {"d": "2025-12-31", "v": 2963}, {"d": "2026-01-03", "v": 2972},
      {"d": "2026-01-06", "v": 3050}, {"d": "2026-01-07", "v": 3121}, {"d": "2026-01-08", "v": 3072}, {"d": "2026-01-10", "v": 3149},
      {"d": "2026-01-12", "v": 3170}, {"d": "2026-01-14", "v": 3076}, {"d": "2026-01-16", "v": 3098}, {"d": "2026-01-20", "v": 2856}
    ],
    "marker": [{"d": "2024-09-12"}]
  },
  "layer": [
    {
      "data": {"name": "series"},
      "mark": {"type": "line", "color": "#000080", "strokeWidth": 4.5, "clip": true},
      "encoding": {
        "x": {
          "field": "d",
          "type": "temporal",
          "scale": {
            "type": "utc",
            "domain": [
              {"year": 2021, "month": 1, "date": 1, "utc": true},
              {"year": 2026, "month": 1, "date": 21, "utc": true}
            ]
          },
          "axis": {
            "grid": false,
            "labelExpr": "utcFormat(datum.value, '%-m/%-d/%Y')",
            "labelAngle": -90,
            "labelAlign": "right",
            "labelBaseline": "middle",
            "labelPadding": 20,
            "values": [
              {"year": 2021, "month": 1, "date": 1, "utc": true},
              {"year": 2021, "month": 4, "date": 1, "utc": true},
              {"year": 2021, "month": 7, "date": 1, "utc": true},
              {"year": 2021, "month": 10, "date": 1, "utc": true},
              {"year": 2022, "month": 1, "date": 1, "utc": true},
              {"year": 2022, "month": 4, "date": 1, "utc": true},
              {"year": 2022, "month": 7, "date": 1, "utc": true},
              {"year": 2022, "month": 10, "date": 1, "utc": true},
              {"year": 2023, "month": 1, "date": 1, "utc": true},
              {"year": 2023, "month": 4, "date": 1, "utc": true},
              {"year": 2023, "month": 7, "date": 1, "utc": true},
              {"year": 2023, "month": 10, "date": 1, "utc": true},
              {"year": 2024, "month": 1, "date": 1, "utc": true},
              {"year": 2024, "month": 4, "date": 1, "utc": true},
              {"year": 2024, "month": 7, "date": 1, "utc": true},
              {"year": 2024, "month": 10, "date": 1, "utc": true},
              {"year": 2025, "month": 1, "date": 1, "utc": true},
              {"year": 2025, "month": 4, "date": 1, "utc": true},
              {"year": 2025, "month": 7, "date": 1, "utc": true},
              {"year": 2025, "month": 10, "date": 1, "utc": true},
              {"year": 2026, "month": 1, "date": 1, "utc": true}
            ]
          }
        },
        "y": {
          "field": "v",
          "type": "quantitative",
          "scale": {"domain": [0, 4000], "nice": false, "zero": true},
          "axis": {
            "values": [0, 500, 1000, 1500, 2000, 2500, 3000, 3500, 4000],
            "format": ",d",
            "grid": true,
            "gridColor": "#3a3a3a",
            "gridWidth": 1.5,
            "labelPadding": 28
          }
        }
      }
    },
    {
      "data": {"name": "marker"},
      "mark": {"type": "rule", "color": "#C00000", "strokeWidth": 11},
      "encoding": {
        "x": {"field": "d", "type": "temporal"}
      }
    }
  ]
}
